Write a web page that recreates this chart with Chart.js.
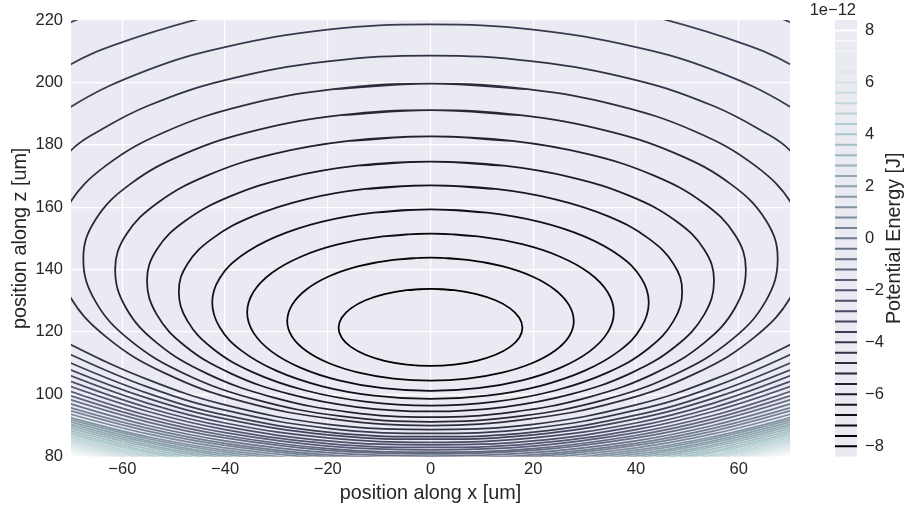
<!DOCTYPE html>
<html>
<head>
<meta charset="utf-8">
<script src="https://cdn.jsdelivr.net/npm/chart.js@4.4.1/dist/chart.umd.min.js"></script>
<style>
  html, body { margin: 0; padding: 0; background: #fff; }
  #wrap { position: relative; width: 907px; height: 510px; }
  #mainBox { position: absolute; left: 0; top: 0; }
  #barBox { position: absolute; left: 800px; top: 0; }
</style>
</head>
<body>
<div id="wrap">
  <div id="mainBox"><canvas id="contourChart" width="907" height="510"></canvas></div>
  <div id="barBox"><canvas id="barChart" width="107" height="510"></canvas></div>
</div>
<script>
// contour levels (units of 1e-12 J)
const levels = [-8.0, -7.6, -7.2, -6.8, -6.4, -6.0, -5.6, -5.2, -4.8, -4.4, -4.0,
                -3.6, -3.2, -2.8, -2.4, -2.0, -1.6, -1.2, -0.8, -0.4, 0.0,
                0.4, 0.8, 1.2, 1.6, 2.0, 2.4, 2.8, 3.2, 3.6, 4.0,
                4.4, 4.8, 5.2, 5.6, 6.0, 6.4, 6.8, 7.2, 7.6, 8.0];

const xTickValues = [-60, -40, -20, 0, 20, 40, 60];
const zTickValues = [80, 100, 120, 140, 160, 180, 200, 220];
const energyTickValues = [-8, -6, -4, -2, 0, 2, 4, 6, 8];

// closed rings around the minimum (levels 0..8): left half, top -> leftmost -> bottom, [x, z]
const ringHalves = [
  [[0,133.8],[-4.63,133.37],[-8.95,132.13],[-12.66,130.14],[-15.5,127.55],[-17.29,124.54],[-17.9,121.3],
   [-17.29,118.14],[-15.5,115.2],[-12.66,112.67],[-8.95,110.73],[-4.63,109.52],[0,109.1]],
  [[0,143.8],[-7.22,143.1],[-13.95,141.07],[-19.73,137.83],[-24.16,133.6],[-26.95,128.68],[-27.9,123.4],
   [-26.95,118.48],[-24.16,113.9],[-19.73,109.97],[-13.95,106.95],[-7.22,105.05],[0,104.4]],
  [[0,151.5],[-9.24,150.64],[-17.85,148.12],[-25.24,144.12],[-30.92,138.9],[-34.48,132.82],[-35.7,126.3],
   [-34.48,119.78],[-30.92,113.7],[-25.24,108.48],[-17.85,104.48],[-9.24,101.96],[0,101.1]],
  [[0,159.3],[-11.0,158.28],[-21.25,155.31],[-30.05,150.57],[-36.81,144.4],[-41.05,137.21],[-42.5,129.5],
   [-41.05,121.48],[-36.81,114.0],[-30.05,107.58],[-21.25,102.65],[-11.0,99.56],[0,98.5]],
  [[0,167.0],[-12.68,165.84],[-24.5,162.44],[-34.65,157.04],[-42.43,150.0],[-47.33,141.8],[-49.0,133.0],
   [-47.33,123.53],[-42.43,114.7],[-34.65,107.12],[-24.5,101.3],[-12.68,97.65],[0,96.4]],
  [[0,174.6],[-14.29,173.3],[-27.6,169.49],[-39.03,163.44],[-47.8,155.55],[-53.32,146.36],[-55.2,136.5],
   [-53.32,125.63],[-47.8,115.5],[-39.03,106.8],[-27.6,100.13],[-14.29,95.93],[0,94.5]],
  [[0,182.7],[-15.89,181.24],[-30.7,176.98],[-43.42,170.19],[-53.17,161.35],[-59.31,151.05],[-61.4,140.0],
   [-59.31,127.76],[-53.17,116.35],[-43.42,106.55],[-30.7,99.04],[-15.89,94.31],[0,92.7]],
  [[0,191.1],[-17.5,189.48],[-33.8,184.72],[-47.8,177.16],[-58.54,167.3],[-65.3,155.82],[-67.6,143.5],
   [-65.3,129.96],[-58.54,117.35],[-47.8,106.52],[-33.8,98.21],[-17.5,93.0],[0,91.2]],
  [[0,199.6],[-18.89,197.81],[-36.5,192.55],[-51.62,184.19],[-63.22,173.3],[-70.51,160.61],[-73,147.0],
   [-70.51,132.25],[-63.22,118.5],[-51.62,106.7],[-36.5,97.64],[-18.89,92.06],[0,90.0]]
];

// upper arcs leaving through the left/top edges (levels 9..12): left half from x = 0
const upperHalves = [
  [[0,208.6],[-20,206.7],[-40,200.7],[-55,192.5],[-65,184.0],[-70,178.2],[-78,162.1]],
  [[0,218.6],[-20,216.9],[-40,211.3],[-55,204.0],[-70,192.2],[-80,179.1]],
  [[0,229.0],[-20,227.4],[-35,224.0],[-45.5,220.2],[-60,212.9],[-70,205.8],[-85,189.4]],
  [[0,240.0],[-30,236.6],[-55,227.9],[-69,220.0],[-80,211.1],[-90,200.0]]
];

// lower arcs (levels 9..40): z at these x positions, left half
const lowerArcX = [0, -20, -40, -55, -70, -80];
const lowerArcZ = [
  [88.7, 90.4, 96.6, 104.7, 115.9, 125.2],
  [87.5, 89.1, 94.9, 102.3, 112.7, 121.3],
  [86.4, 87.9, 93.3, 100.3, 110.0, 118.0],
  [85.6, 87.0, 92.1, 98.7, 107.8, 115.4],
  [84.6, 86.0, 90.8, 97.1, 105.9, 113.2],
  [83.8, 85.1, 89.7, 95.7, 104.1, 111.0],
  [83.0, 84.2, 88.7, 94.5, 102.5, 109.1],
  [82.2, 83.4, 87.7, 93.2, 100.9, 107.3],
  [81.5, 82.6, 86.8, 92.1, 99.5, 105.6],
  [80.9, 82.0, 86.0, 91.1, 98.2, 104.1],
  [80.2, 81.3, 85.1, 90.0, 96.9, 102.6],
  [79.6, 80.6, 84.3, 89.1, 95.7, 101.2],
  [79.0, 80.0, 83.6, 88.2, 94.7, 100.1],
  [78.4, 79.4, 82.8, 87.3, 93.6, 98.8],
  [77.8, 78.7, 82.1, 86.4, 92.5, 97.5],
  [77.2, 78.1, 81.5, 85.8, 91.8, 96.8],
  [76.6, 77.5, 80.8, 85.1, 91.1, 96.0],
  [76.0, 76.9, 80.2, 84.5, 90.4, 95.3],
  [75.4, 76.3, 79.6, 83.8, 89.7, 94.6],
  [74.8, 75.7, 78.9, 83.2, 89.0, 93.8],
  [74.2, 75.1, 78.3, 82.5, 88.3, 93.1],
  [73.6, 74.5, 77.7, 81.8, 87.6, 92.4],
  [73.0, 73.9, 77.1, 81.2, 86.9, 91.6],
  [72.4, 73.3, 76.4, 80.5, 86.2, 90.9],
  [71.8, 72.7, 75.8, 79.9, 85.5, 90.2],
  [71.2, 72.1, 75.2, 79.2, 84.8, 89.4],
  [70.6, 71.5, 74.5, 78.5, 84.1, 88.7],
  [70.0, 70.9, 73.9, 77.9, 83.4, 88.0],
  [69.4, 70.2, 73.3, 77.2, 82.7, 87.2],
  [68.8, 69.6, 72.7, 76.6, 82.0, 86.5],
  [68.2, 69.0, 72.0, 75.9, 81.3, 85.8],
  [67.6, 68.4, 71.4, 75.2, 80.6, 85.0]
];

const FONT = '"Liberation Sans", Arial, sans-serif';
const TEXT = '#262626';

// matplotlib "bone" colormap
function lerpSeg(t, pts) {
    for (let i = 1; i < pts.length; i++) {
        if (t <= pts[i][0]) {
            const [t0, v0] = pts[i - 1];
            const [t1, v1] = pts[i];
            return v0 + (t - t0) / (t1 - t0) * (v1 - v0);
        }
    }
    return pts[pts.length - 1][1];
}
function boneColor(level) {
    const t = (level - levels[0]) / (levels[levels.length - 1] - levels[0]);
    const r = lerpSeg(t, [[0, 0], [0.746032, 0.652778], [1, 1]]);
    const g = lerpSeg(t, [[0, 0], [0.365079, 0.319444], [0.746032, 0.777778], [1, 1]]);
    const b = lerpSeg(t, [[0, 0], [0.365079, 0.444444], [1, 1]]);
    return `rgb(${Math.round(r * 255)}, ${Math.round(g * 255)}, ${Math.round(b * 255)})`;
}

const fmt = v => String(v).replace('-', '\u2212');

// mirror a left half into a closed loop; wrap one point past the top on each end
// so the top of the ring is an inner point of the spline (no kink)
function ringPath(half) {
    const left = half.map(([x, z]) => ({x: x, y: z}));
    const right = half.slice().reverse().slice(1).map(([x, z]) => ({x: -x, y: z}));
    const loop = left.concat(right);               // first == last == top
    const n = loop.length;
    return [loop[n - 2]].concat(loop, [loop[1]]);
}
function arcPath(half) {
    const right = half.slice(1).reverse().map(([x, z]) => ({x: -x, y: z}));
    return right.concat(half.map(([x, z]) => ({x: x, y: z})));
}

function lineSet(points, levelIndex, width) {
    return {
        data: points,
        showLine: true,
        borderColor: boneColor(levels[levelIndex]),
        borderWidth: width,
        pointRadius: 0,
        tension: 0.4,
        fill: false,
        clip: 0
    };
}

const datasets = [];
ringHalves.forEach((half, i) => datasets.push(lineSet(ringPath(half), i, 1.75)));
upperHalves.forEach((half, i) => datasets.push(lineSet(arcPath(half), ringHalves.length + i, 1.75)));
lowerArcZ.forEach((zs, i) => {
    const half = lowerArcX.map((x, j) => [x, zs[j]]);
    datasets.push(lineSet(arcPath(half), ringHalves.length + i, 1.75));
});

const plotBackground = {
    id: 'plotBackground',
    beforeDraw(chart) {
        const {ctx, chartArea} = chart;
        ctx.save();
        ctx.fillStyle = '#EAEAF2';
        ctx.fillRect(chartArea.left, chartArea.top, chartArea.width, chartArea.height);
        ctx.restore();
    }
};

new Chart(document.getElementById('contourChart'), {
    type: 'scatter',
    data: { datasets: datasets },
    plugins: [plotBackground],
    options: {
        responsive: false,
        animation: false,
        events: [],
        layout: { padding: { top: 20, right: 117, bottom: 0, left: 0 } },
        plugins: { legend: { display: false }, tooltip: { enabled: false } },
        scales: {
            x: {
                type: 'linear',
                min: -70,
                max: 70,
                afterBuildTicks: scale => { scale.ticks = xTickValues.map(v => ({ value: v })); },
                afterFit: scale => { scale.height = 53.3; },
                grid: { color: '#ffffff', lineWidth: 1.2, drawTicks: false },
                border: { display: false },
                ticks: { padding: 3, color: TEXT, font: { family: FONT, size: 16.5 }, callback: v => fmt(v) },
                title: {
                    display: true,
                    text: 'position along x [um]',
                    color: TEXT,
                    font: { family: FONT, size: 19.8 },
                    padding: { top: 0, bottom: 4.1 }
                }
            },
            y: {
                type: 'linear',
                min: 80,
                max: 220,
                afterBuildTicks: scale => { scale.ticks = zTickValues.map(v => ({ value: v })); },
                afterFit: scale => { scale.width = 71; },
                grid: { color: '#ffffff', lineWidth: 1.2, drawTicks: false },
                border: { display: false },
                ticks: { padding: 8, color: TEXT, font: { family: FONT, size: 16.5 }, callback: v => fmt(v) },
                title: {
                    display: true,
                    text: 'position along z [um]',
                    color: TEXT,
                    font: { family: FONT, size: 19.8 },
                    padding: { top: 9.1, bottom: 0 }
                }
            }
        }
    }
});

// colorbar: offset text on top, rotated label on the right (reads bottom to top)
const barTexts = {
    id: 'barTexts',
    afterDraw(chart) {
        const {ctx, chartArea} = chart;
        ctx.save();
        ctx.fillStyle = TEXT;
        ctx.font = '16.5px ' + FONT;
        ctx.textAlign = 'right';
        ctx.textBaseline = 'middle';
        ctx.fillText('1e\u221212', chartArea.right - 1, 10);
        ctx.font = '19.8px ' + FONT;
        ctx.textAlign = 'center';
        ctx.translate(chart.width - 12, (chartArea.top + chartArea.bottom) / 2);
        ctx.rotate(-Math.PI / 2);
        ctx.fillText('Potential Energy [J]', 0, 0);
        ctx.restore();
    }
};

new Chart(document.getElementById('barChart'), {
    type: 'scatter',
    data: {
        datasets: levels.map((lev, i) => lineSet([{ x: 0, y: lev }, { x: 1, y: lev }], i, 2))
    },
    plugins: [plotBackground, barTexts],
    options: {
        responsive: false,
        animation: false,
        events: [],
        layout: { padding: { top: 20, right: 0, bottom: 53.3, left: 35 } },
        plugins: { legend: { display: false }, tooltip: { enabled: false } },
        scales: {
            x: { type: 'linear', min: 0, max: 1, display: false },
            y: {
                type: 'linear',
                position: 'right',
                min: -8.4,
                max: 8.4,
                afterBuildTicks: scale => { scale.ticks = energyTickValues.map(v => ({ value: v })); },
                afterFit: scale => { scale.width = 50; },
                grid: { display: false, drawTicks: false },
                border: { display: false },
                ticks: { padding: 8, color: TEXT, font: { family: FONT, size: 16.5 }, callback: v => fmt(v) }
            }
        }
    }
});
</script>
</body>
</html>
